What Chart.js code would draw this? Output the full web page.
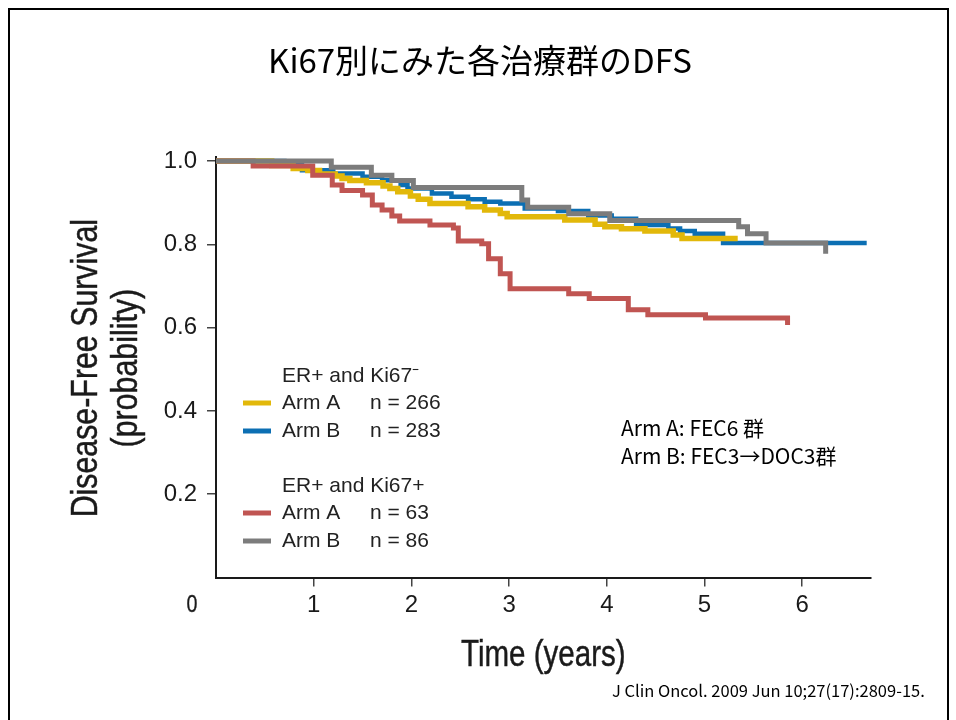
<!DOCTYPE html>
<html>
<head>
<meta charset="utf-8">
<title>Ki67別にみた各治療群のDFS</title>
<script src="https://cdn.jsdelivr.net/npm/chart.js@4.4.1/dist/chart.umd.min.js"></script>
<style>
  html, body { margin: 0; padding: 0; background: #fff; }
  canvas { display: block; }
</style>
</head>
<body>
<canvas id="dfs" width="956" height="720"></canvas>
<script>
// Kaplan-Meier steps: time (years) and disease-free survival after each event
const negArmATimes = [0, 0.57, 0.79, 0.94, 1.06, 1.22, 1.29, 1.37, 1.54, 1.71, 1.78, 1.86, 1.99, 2.07, 2.19, 2.58, 2.75, 2.91, 2.98, 3.57, 3.88, 3.98, 4.15, 4.39, 4.68, 4.77, 5.34];
const negArmASurv  = [1.0, 0.989, 0.982, 0.977, 0.969, 0.964, 0.958, 0.953, 0.948, 0.940, 0.934, 0.926, 0.916, 0.908, 0.898, 0.890, 0.882, 0.874, 0.866, 0.858, 0.848, 0.842, 0.837, 0.832, 0.822, 0.814, 0.814];

const negArmBTimes = [0, 0.70, 0.88, 1.20, 1.50, 1.70, 1.89, 1.96, 2.21, 2.41, 2.58, 2.75, 2.91, 3.16, 3.50, 3.81, 4.05, 4.30, 4.43, 4.63, 4.75, 4.90, 5.19, 6.66];
const negArmBSurv  = [1.0, 0.990, 0.978, 0.970, 0.962, 0.954, 0.942, 0.934, 0.922, 0.914, 0.908, 0.902, 0.898, 0.886, 0.880, 0.869, 0.861, 0.849, 0.846, 0.838, 0.832, 0.825, 0.803, 0.803];

const posArmATimes = [0, 0.38, 0.99, 1.19, 1.29, 1.50, 1.60, 1.70, 1.80, 1.88, 2.19, 2.43, 2.48, 2.72, 2.79, 2.91, 3.01, 3.61, 3.82, 4.22, 4.42, 5.01, 5.85, 5.85];
const posArmASurv  = [1.0, 0.988, 0.966, 0.942, 0.929, 0.918, 0.894, 0.882, 0.868, 0.856, 0.846, 0.839, 0.808, 0.801, 0.765, 0.729, 0.693, 0.681, 0.670, 0.643, 0.631, 0.623, 0.623, 0.606];

const posArmBTimes = [0, 1.18, 1.59, 1.80, 2.02, 3.13, 3.19, 3.61, 4.03, 5.35, 5.44, 5.63, 6.24, 6.24];
const posArmBSurv  = [1.0, 0.985, 0.966, 0.953, 0.936, 0.906, 0.889, 0.873, 0.857, 0.842, 0.825, 0.803, 0.803, 0.777];

const xTickValues = [0, 1, 2, 3, 4, 5, 6];
const yTickValues = [0, 0.2, 0.4, 0.6, 0.8, 1.0];

const xTitle = 'Time (years)';
const yTitleLines = ['Disease-Free Survival', '(probability)'];
const groupHeaders = ['ER+ and Ki67\u207B', 'ER+ and Ki67+'];
const armNames = ['Arm A', 'Arm B'];
const negCounts = [266, 283];
const posCounts = [63, 86];
const regimenNotes = ['Arm A: FEC6 群', 'Arm B: FEC3\u2192DOC3群'];

const COLORS = { yellow: '#E2B80A', blue: '#0C6FB3', red: '#C05552', gray: '#7C7C7C' };
const HELV = '"Liberation Sans", Arial, sans-serif';
const JP = '"Noto Sans CJK JP", "Noto Sans", sans-serif';
const SQUEEZE = 0.82; // narrow look for the axis titles

const toPoints = (times, surv) => times.map((t, i) => ({ x: t, y: surv[i] }));

function kmDataset(label, times, surv, color, width, order) {
  return {
    label: label,
    data: toPoints(times, surv),
    borderColor: color,
    backgroundColor: color,
    borderWidth: width,
    stepped: 'before',
    pointRadius: 0,
    fill: false,
    order: order
  };
}

// condensed, slightly heavier text for the axis titles
function narrowText(ctx, text, x, y, rotate) {
  ctx.save();
  ctx.translate(x, y);
  if (rotate) ctx.rotate(-Math.PI / 2);
  ctx.scale(SQUEEZE, 1);
  ctx.fillText(text, 0, 0);
  ctx.strokeText(text, 0, 0);
  ctx.restore();
}

// frame, headings, axis titles, legend block and notes
const slideText = {
  id: 'slideText',
  beforeDraw(chart) {
    const ctx = chart.ctx;
    ctx.save();
    ctx.fillStyle = '#fff';
    ctx.fillRect(0, 0, chart.width, chart.height);
    ctx.strokeStyle = '#000';
    ctx.lineWidth = 2;
    ctx.strokeRect(9, 9, 939, 730);
    ctx.restore();
  },
  afterDraw(chart) {
    const ctx = chart.ctx;
    const xs = chart.scales.x;
    const area = chart.chartArea;
    ctx.save();
    ctx.fillStyle = '#000';
    ctx.textBaseline = 'middle';
    ctx.textAlign = 'center';

    ctx.font = '33px ' + JP;
    ctx.fillText('Ki67別にみた各治療群のDFS', 480, 60);

    // axis titles
    ctx.fillStyle = '#1a1a1a';
    ctx.strokeStyle = '#1a1a1a';
    ctx.lineWidth = 0.45;
    ctx.font = '37px ' + HELV;
    const midY = (area.top + area.bottom) / 2 + 1;
    narrowText(ctx, yTitleLines[0], 87, midY, true);
    narrowText(ctx, yTitleLines[1], 127, midY, true);
    ctx.font = '36px ' + HELV;
    narrowText(ctx, xTitle, (area.left + area.right) / 2, 656, false);

    // shared origin label under the corner
    ctx.lineWidth = 0.3;
    ctx.font = '24px ' + HELV;
    narrowText(ctx, '0', xs.getPixelForValue(0) - 24, 605, false);

    // legend
    const groups = [
      { header: groupHeaders[0], y: 376, counts: negCounts, colors: [COLORS.yellow, COLORS.blue] },
      { header: groupHeaders[1], y: 486, counts: posCounts, colors: [COLORS.red, COLORS.gray] }
    ];
    ctx.textAlign = 'left';
    ctx.font = '21px ' + HELV;
    groups.forEach(g => {
      ctx.fillStyle = '#222';
      ctx.fillText(g.header, 282, g.y);
      armNames.forEach((name, i) => {
        const rowY = g.y + 27 + i * 28;
        ctx.strokeStyle = g.colors[i];
        ctx.lineWidth = 5;
        ctx.beginPath();
        ctx.moveTo(243, rowY);
        ctx.lineTo(271, rowY);
        ctx.stroke();
        ctx.fillStyle = '#222';
        ctx.fillText(name, 282, rowY);
        ctx.fillText('n = ' + g.counts[i], 370, rowY);
      });
    });

    ctx.fillStyle = '#000';
    ctx.font = '21px ' + JP;
    regimenNotes.forEach((t, i) => ctx.fillText(t, 621, 428 + i * 28));

    ctx.font = '16.5px ' + JP;
    ctx.fillText('J Clin Oncol. 2009 Jun 10;27(17):2809-15.', 612, 691);
    ctx.restore();
  }
};

new Chart(document.getElementById('dfs'), {
  type: 'line',
  data: {
    datasets: [
      kmDataset('ER+ and Ki67+ Arm B', posArmBTimes, posArmBSurv, COLORS.gray, 5, 1),
      kmDataset('ER+ and Ki67+ Arm A', posArmATimes, posArmASurv, COLORS.red, 5, 2),
      kmDataset('ER+ and Ki67- Arm A', negArmATimes, negArmASurv, COLORS.yellow, 5.5, 3),
      kmDataset('ER+ and Ki67- Arm B', negArmBTimes, negArmBSurv, COLORS.blue, 4.5, 4)
    ]
  },
  options: {
    responsive: false,
    animation: false,
    events: [],
    layout: { padding: { top: 156.8, right: 85.4, bottom: 0, left: 0 } },
    plugins: {
      legend: { display: false },
      tooltip: { enabled: false }
    },
    scales: {
      x: {
        type: 'linear',
        min: 0,
        max: 6.7,
        afterBuildTicks: s => { s.ticks = xTickValues.map(v => ({ value: v })); },
        afterFit: s => { s.height = 720 - 577.5; },
        border: { display: true, color: '#1a1a1a', width: 2 },
        grid: {
          drawOnChartArea: false,
          tickLength: 9,
          lineWidth: 1.5,
          color: c => (c.tick && c.tick.value === 0) ? 'rgba(0,0,0,0)' : '#444'
        },
        ticks: {
          color: '#1a1a1a',
          font: { family: HELV, size: 24 },
          padding: 4,
          maxRotation: 0,
          callback: v => v === 0 ? '' : String(v)
        }
      },
      y: {
        type: 'linear',
        min: 0,
        max: 1.01,
        afterBuildTicks: s => { s.ticks = yTickValues.map(v => ({ value: v })); },
        afterFit: s => { s.width = 216; },
        border: { display: true, color: '#1a1a1a', width: 2 },
        grid: {
          drawOnChartArea: false,
          tickLength: 9,
          lineWidth: 1.5,
          color: c => (c.tick && c.tick.value === 0) ? 'rgba(0,0,0,0)' : '#444'
        },
        ticks: {
          color: '#1a1a1a',
          font: { family: HELV, size: 24 },
          padding: 10,
          callback: v => v === 0 ? '' : v.toFixed(1)
        }
      }
    }
  },
  plugins: [slideText]
});
</script>
</body>
</html>
